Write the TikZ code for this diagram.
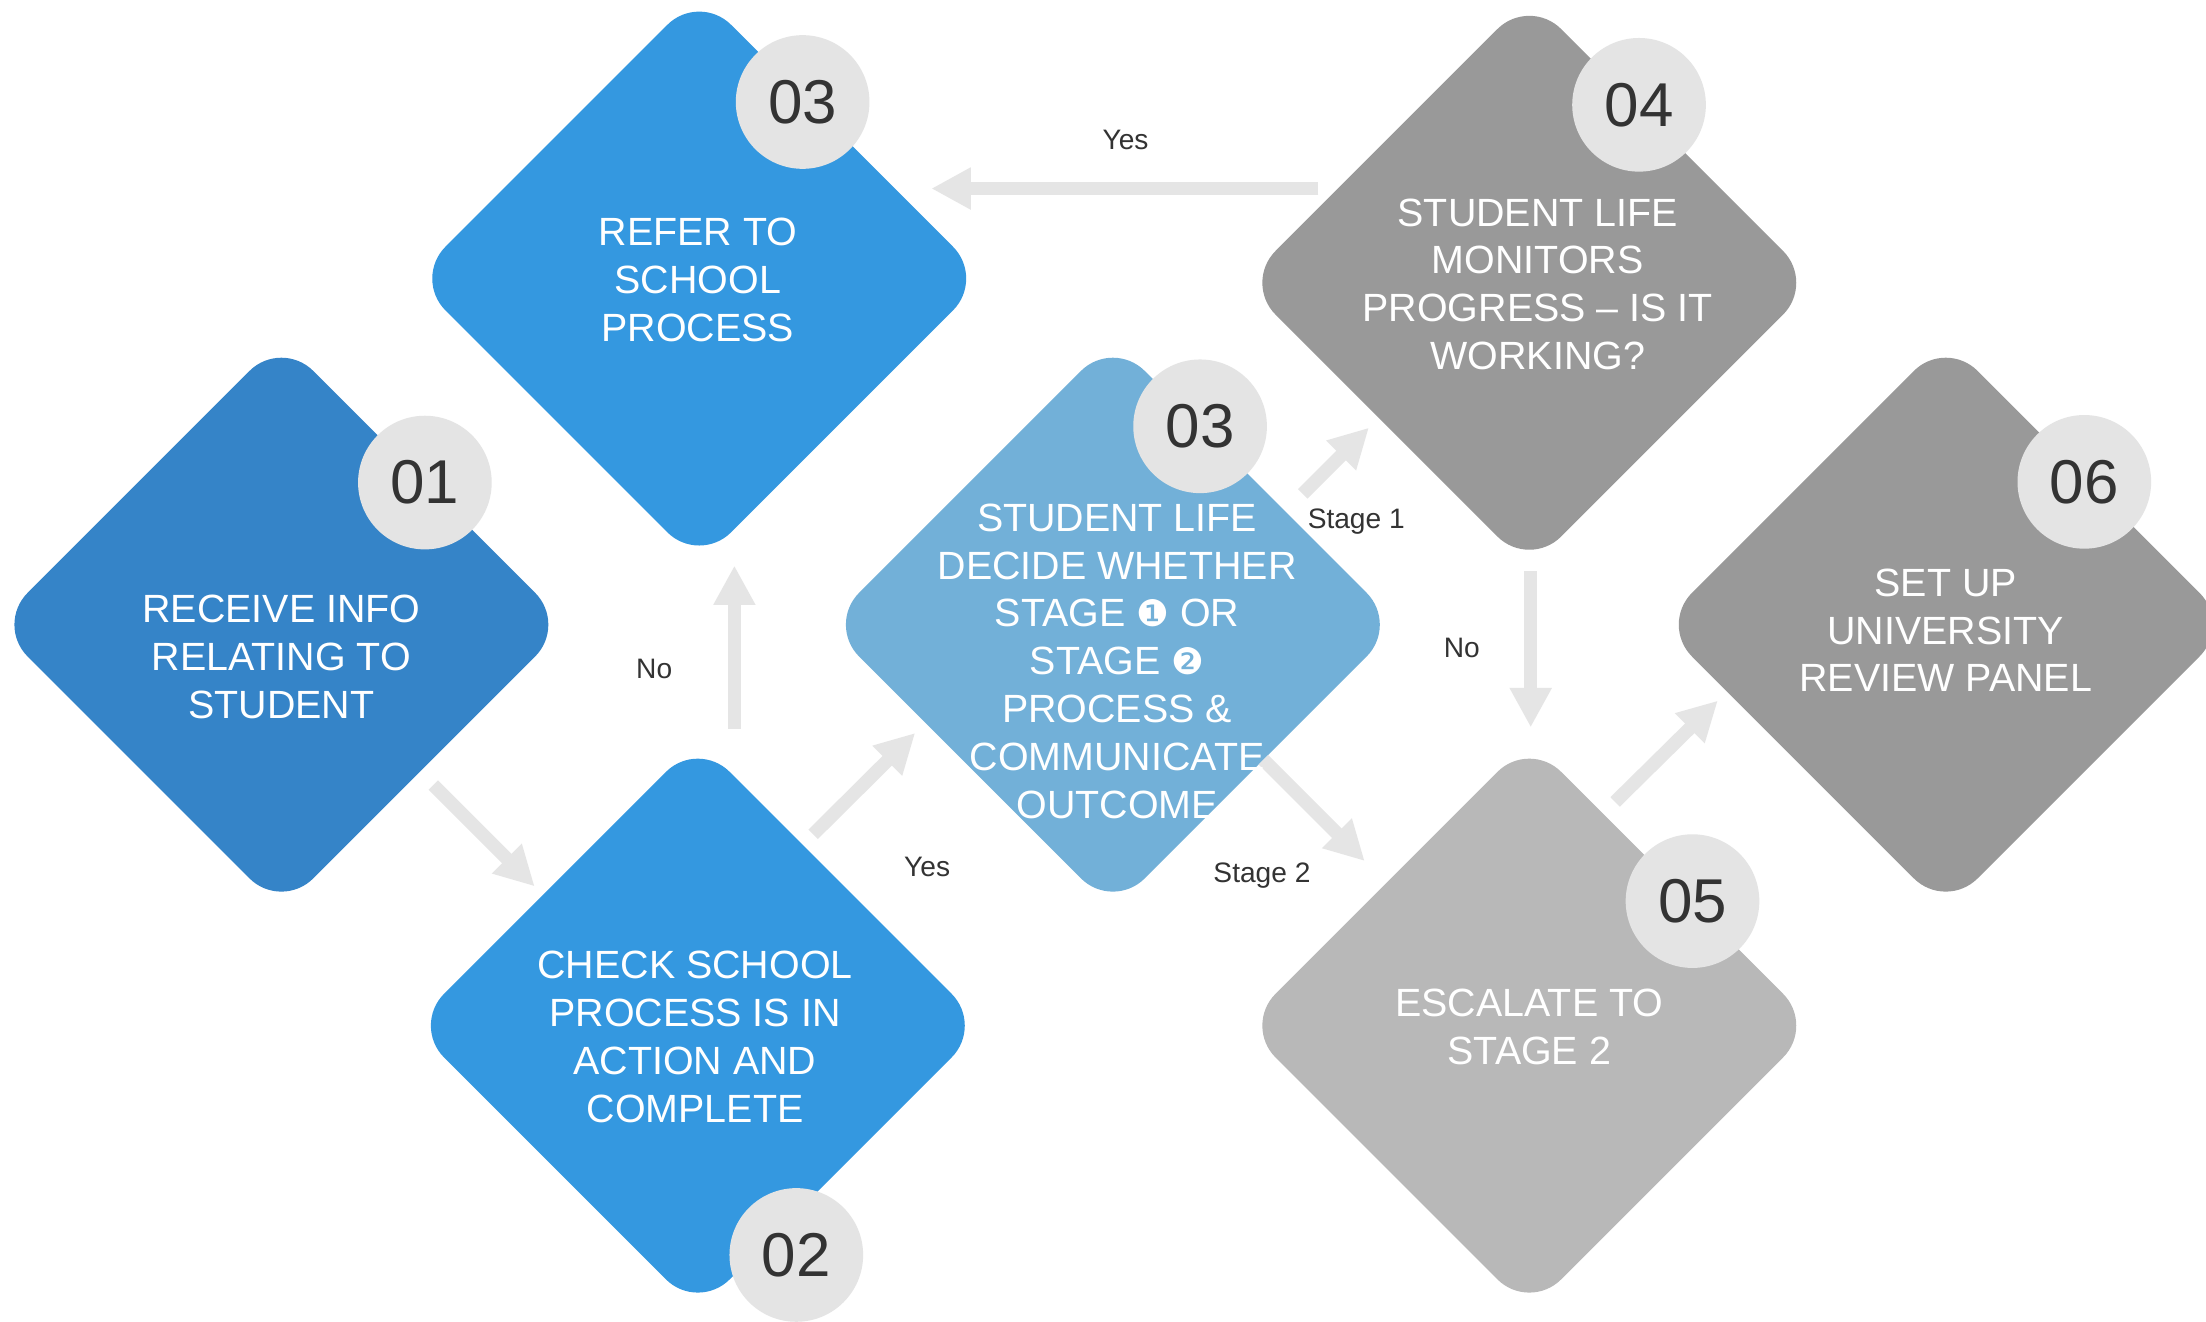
\documentclass[tikz,border=0pt]{standalone}
\usepackage{fontspec}
\setmainfont{Liberation Sans}
\newfontfamily\dingfont{DejaVu Sans}
\usetikzlibrary{shapes.geometric,arrows.meta}

\definecolor{blueDark}{HTML}{3584C8}
\definecolor{blueMid}{HTML}{3498E0}
\definecolor{blueLight}{HTML}{72B0D8}
\definecolor{greyDark}{HTML}{999999}
\definecolor{greyLight}{HTML}{B8B8B8}
\definecolor{badgegrey}{HTML}{E4E4E4}
\definecolor{flowgrey}{HTML}{E5E5E5}
\definecolor{ink}{HTML}{333333}

\tikzset{
  stepshape/.style={diamond, aspect=1, minimum width=406pt, minimum height=406pt,
    inner sep=0pt, outer sep=0pt, rounded corners=32pt, fill=#1},
  numbadge/.style={circle, fill=badgegrey, minimum size=95pt, inner sep=0pt,
    text=ink, font=\fontsize{44}{44}\selectfont},
  steptext/.style={text=white, align=center, inner sep=0pt,
    font=\fontsize{28}{34}\selectfont},
  flowarrow/.style={draw=flowgrey, line width=9.5pt,
    -{Triangle[length=28pt,width=28pt]}},
  flowlabel/.style={text=ink, anchor=base, inner sep=0pt,
    font=\fontsize{20}{24}\selectfont},
}
\newcommand{\stagemark}[1]{{\dingfont\fontsize{26}{34}\selectfont #1}}

\begin{document}
\begin{tikzpicture}[x=1pt,y=-1pt]
  \useasboundingbox (0,0) rectangle (1568,939);
  \fill[white] (0,0) rectangle (1568,939);
  \clip (0,0) rectangle (1568,939);

  % process steps
  \node[stepshape=blueDark]  (d1)  at (200,444)  {};
  \node[stepshape=blueMid]   (d3a) at (497,198)  {};
  \node[stepshape=blueMid]   (d2)  at (496,729)  {};
  \node[stepshape=blueLight] (d3b) at (791,444)  {};
  \node[stepshape=greyDark]  (d4)  at (1087,201) {};
  \node[stepshape=greyLight] (d5)  at (1087,729) {};
  \node[stepshape=greyDark]  (d6)  at (1383,444) {};

  % connectors
  \draw[flowarrow] ([shift={(6.5,12.5)}]d1.south east) -- ([shift={(-14.5,2.5)}]d2.north west);
  \draw[flowarrow] ([shift={(26,-8)}]d2.north) -- ([shift={(25,1)}]d3a.south);
  \draw[flowarrow] ([shift={(-19.5,-34.5)}]d2.north east) -- ([shift={(-39,-24.5)}]d3b.south west);
  \draw[flowarrow] ([shift={(33.5,8.5)}]d3b.north east) -- ([shift={(-12.5,1.5)}]d4.south west);
  \draw[flowarrow] ([shift={(5.5,-5.5)}]d3b.south east) -- ([shift={(-15.5,-15.5)}]d5.north west);
  \draw[flowarrow] ([shift={(53,-67)}]d4.west) -- ([shift={(-38,-64)}]d3a.east);
  \draw[flowarrow] ([shift={(1,2)}]d4.south) -- ([shift={(1,-9)}]d5.north);
  \draw[flowarrow] ([shift={(-40.5,-57.5)}]d5.north east) -- ([shift={(-60.5,-47.5)}]d6.south west);

  % number badges
  \node[numbadge] (n1)  at (302,343)     {01};
  \node[numbadge] (n3a) at (570.5,72.5)  {03};
  \node[numbadge] (n2)  at (566,892)     {02};
  \node[numbadge] (n3b) at (853,303)     {03};
  \node[numbadge] (n4)  at (1165,74.5)   {04};
  \node[numbadge] (n5)  at (1203,640.5)  {05};
  \node[numbadge] (n6)  at (1481.5,342.5){06};

  % step texts
  \node[steptext] (t1)  at (200,467)  {RECEIVE INFO\\RELATING TO\\STUDENT};
  \node[steptext] (t3a) at (496,199)  {REFER TO\\SCHOOL\\PROCESS};
  \node[steptext] (t2)  at (494,737)  {CHECK SCHOOL\\PROCESS IS IN\\ACTION AND\\COMPLETE};
  \node[steptext] (t3b) at (794,470)  {STUDENT LIFE\\DECIDE WHETHER\\STAGE \stagemark{❶} OR\\STAGE \stagemark{❷}\\PROCESS \&\\COMMUNICATE\\OUTCOME};
  \node[steptext] (t4)  at (1093,202) {STUDENT LIFE\\MONITORS\\PROGRESS – IS IT\\WORKING?};
  \node[steptext] (t5)  at (1087,730) {ESCALATE TO\\STAGE 2};
  \node[steptext] (t6)  at (1383,448) {SET UP\\UNIVERSITY\\REVIEW PANEL};

  % connector labels
  \node[flowlabel] (lno1)  at (465,482)   {No};
  \node[flowlabel] (lyes1) at (659,623)   {Yes};
  \node[flowlabel] (ls1)   at (964,376)   {Stage 1};
  \node[flowlabel] (ls2)   at (897,627.5) {Stage 2};
  \node[flowlabel] (lyes2) at (800,106)   {Yes};
  \node[flowlabel] (lno2)  at (1039,467)  {No};
\end{tikzpicture}
\end{document}
